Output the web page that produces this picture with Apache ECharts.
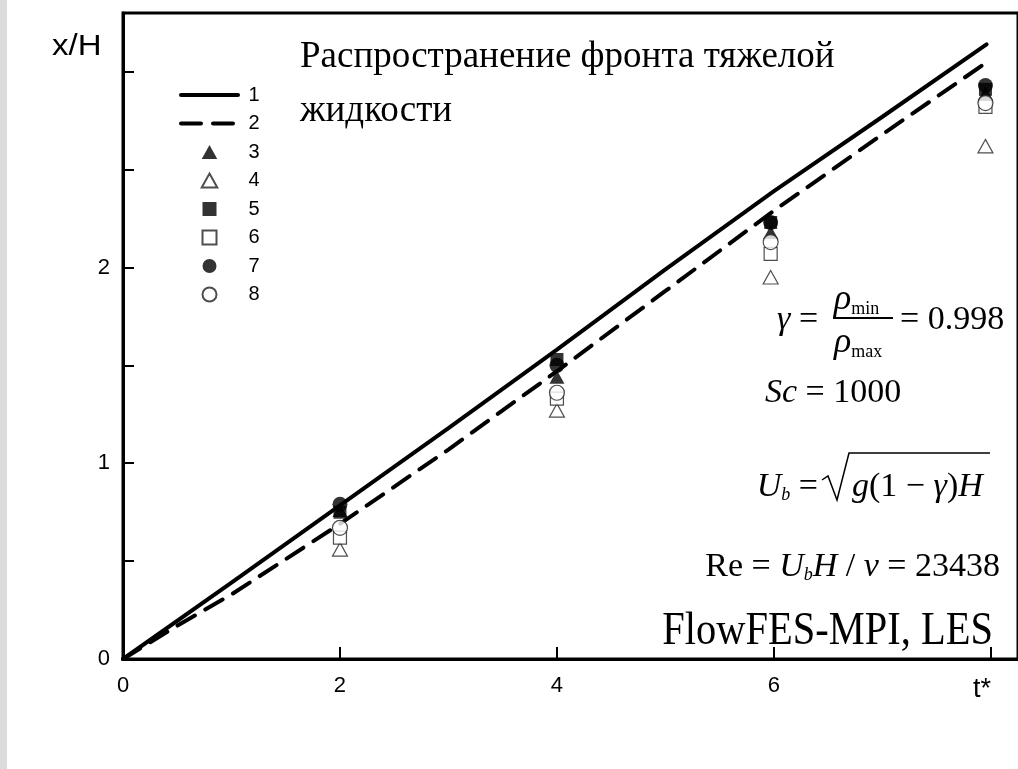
<!DOCTYPE html>
<html>
<head>
<meta charset="utf-8">
<script src="https://cdn.jsdelivr.net/npm/echarts@6.0.0/dist/echarts.min.js"></script>
<style>
html,body{margin:0;padding:0;background:#fff;}
#chart{width:1018px;height:769px;}
</style>
</head>
<body>
<div id="chart"></div>
<script>
// ---- data ----
const seriesNames = ['1', '2', '3', '4', '5', '6', '7', '8'];
const tLine1 = [0, 1, 2, 3, 4, 5, 6, 7, 7.96];
const xLine1 = [0, 0.39, 0.785, 1.18, 1.58, 1.99, 2.39, 2.77, 3.14];
const tLine2 = [0, 0.5, 1, 2, 3, 4, 5, 6, 7, 7.94];
const xLine2 = [0, 0.17, 0.33, 0.69, 1.07, 1.47, 1.88, 2.29, 2.68, 3.04];
const tPts = [2, 4, 5.97, 7.95];
const s3 = [0.76, 1.44, 2.18, 2.89];
const s4 = [0.56, 1.27, 1.95, 2.62];
const s5 = [0.75, 1.53, 2.23, 2.91];
const s6 = [0.62, 1.33, 2.07, 2.82];
const s7 = [0.79, 1.50, 2.23, 2.93];
const s8 = [0.67, 1.36, 2.13, 2.84];
const xTickLabels = ['0', '2', '4', '6'];
const yTickLabels = ['0', '1', '2'];

const zip = (a, b) => a.map((v, i) => [v, b[i]]);
const SANS = 'Liberation Sans';
const SERIF = 'Liberation Serif';
const DASH = [20, 12];
const TRI = 'path://M0,-0.9L1,0.9L-1,0.9Z';
const SQR = 'path://M0,0H1V1H0Z';

const filled = { color: '#000' };
const open = { color: '#fff', borderColor: '#222', borderWidth: 1.2 };

function scatter(name, vals, symbol, size, style) {
  return {
    name, type: 'scatter', data: zip(tPts, vals), symbol, symbolSize: size,
    symbolKeepAspect: true, itemStyle: style, z: 5
  };
}

const chart = echarts.init(document.getElementById('chart'), null, { renderer: 'canvas' });

const legendData = seriesNames.map((n, i) => {
  if (i === 0) return { name: n, lineStyle: { color: '#000', width: 4, type: 'solid' }, itemStyle: { color: 'rgba(0,0,0,0)', borderWidth: 0 } };
  if (i === 1) return { name: n, lineStyle: { color: '#000', width: 4, type: DASH }, itemStyle: { color: 'rgba(0,0,0,0)', borderWidth: 0 } };
  return { name: n };
});

const option = {
  animation: false,
  backgroundColor: '#fff',
  grid: {
    left: 123, top: 13, right: -6, bottom: 110,
    show: true, borderColor: '#000', borderWidth: 3, backgroundColor: 'transparent'
  },
  xAxis: {
    type: 'value', min: 0, max: 8.25, interval: 2,
    splitLine: { show: false },
    axisLine: { onZero: false, lineStyle: { color: '#000', width: 3 } },
    axisTick: { inside: true, length: 12, lineStyle: { color: '#000', width: 2 } },
    axisLabel: {
      margin: 16, color: '#000', fontFamily: SANS, fontSize: 22,
      showMaxLabel: false,
      formatter: v => { const i = xTickLabels.indexOf(String(v)); return i >= 0 ? xTickLabels[i] : ''; }
    }
  },
  yAxis: {
    type: 'value', min: 0, max: 3.3, interval: 0.5,
    splitLine: { show: false },
    axisLine: { onZero: false, lineStyle: { color: '#000', width: 3 } },
    axisTick: { inside: true, length: 11, lineStyle: { color: '#000', width: 2 } },
    axisLabel: {
      margin: 13, color: '#000', fontFamily: SANS, fontSize: 22,
      showMaxLabel: false,
      formatter: v => { const i = yTickLabels.indexOf(String(v)); return i >= 0 ? yTickLabels[i] : ''; }
    }
  },
  legend: {
    orient: 'vertical', left: 179, top: 85, padding: 0,
    itemWidth: 57, itemHeight: 14, itemGap: 8.5,
    symbolKeepAspect: true,
    data: legendData,
    formatter: n => ' ' + n,
    textStyle: { color: '#000', fontFamily: SANS, fontSize: 20 }
  },
  series: [
    {
      name: '1', type: 'line', data: zip(tLine1, xLine1), symbol: 'none', z: 3,
      itemStyle: { color: '#000' },
      lineStyle: { color: '#000', width: 4, cap: 'round' }
    },
    {
      name: '2', type: 'line', data: zip(tLine2, xLine2), symbol: 'none', z: 3,
      itemStyle: { color: '#000' },
      lineStyle: { color: '#000', width: 4, type: DASH, cap: 'round' }
    },
    scatter('3', s3, TRI, 15, filled),
    scatter('4', s4, TRI, 15, open),
    scatter('5', s5, SQR, 13, filled),
    scatter('6', s6, SQR, 13, open),
    scatter('7', s7, 'circle', 15, filled),
    scatter('8', s8, 'circle', 15, open)
  ],
  graphic: [
    { type: 'rect', shape: { x: 0, y: 0, width: 7, height: 769 }, style: { fill: '#dcdcdc' }, z: 0, silent: true },
    { type: 'text', x: 52, y: 47, scaleX: 1.1, style: { text: 'x/H', fontFamily: SANS, fontSize: 30, fill: '#000', align: 'left', verticalAlign: 'middle' } },
    { type: 'text', x: 973, y: 690, style: { text: 't*', fontFamily: SANS, fontSize: 27, fill: '#000', align: 'left', verticalAlign: 'middle' } },
    { type: 'text', x: 300, y: 57, style: { text: 'Распространение фронта тяжелой', fontFamily: SERIF, fontSize: 37, fill: '#000', align: 'left', verticalAlign: 'middle' } },
    { type: 'text', x: 300, y: 111, style: { text: 'жидкости', fontFamily: SERIF, fontSize: 37, fill: '#000', align: 'left', verticalAlign: 'middle' } },
    // gamma
    { type: 'text', x: 777, y: 320, style: { text: '{i|γ} =', fontFamily: SERIF, fontSize: 34, fill: '#000', align: 'left', verticalAlign: 'middle', rich: { i: { fontStyle: 'italic', fontFamily: SERIF, fontSize: 34 } } } },
    { type: 'text', x: 834, y: 300, style: { text: '{i|ρ}{s|min}', fontFamily: SERIF, fontSize: 34, fill: '#000', align: 'left', verticalAlign: 'middle', rich: { i: { fontStyle: 'italic', fontFamily: SERIF, fontSize: 36 }, s: { fontFamily: SERIF, fontSize: 18, verticalAlign: 'bottom' } } } },
    { type: 'line', shape: { x1: 833, y1: 318, x2: 893, y2: 318 }, style: { stroke: '#000', lineWidth: 2 } },
    { type: 'text', x: 834, y: 343, style: { text: '{i|ρ}{s|max}', fontFamily: SERIF, fontSize: 34, fill: '#000', align: 'left', verticalAlign: 'middle', rich: { i: { fontStyle: 'italic', fontFamily: SERIF, fontSize: 36 }, s: { fontFamily: SERIF, fontSize: 18, verticalAlign: 'bottom' } } } },
    { type: 'text', x: 900, y: 320, style: { text: '= 0.998', fontFamily: SERIF, fontSize: 34, fill: '#000', align: 'left', verticalAlign: 'middle' } },
    { type: 'text', x: 765, y: 393, style: { text: '{i|Sc} = 1000', fontFamily: SERIF, fontSize: 34, fill: '#000', align: 'left', verticalAlign: 'middle', rich: { i: { fontStyle: 'italic', fontFamily: SERIF, fontSize: 34 } } } },
    // U_b
    { type: 'text', x: 818, y: 487, style: { text: '{i|U}{s|b} =', fontFamily: SERIF, fontSize: 34, fill: '#000', align: 'right', verticalAlign: 'middle', rich: { i: { fontStyle: 'italic', fontFamily: SERIF, fontSize: 34 }, s: { fontStyle: 'italic', fontFamily: SERIF, fontSize: 18, verticalAlign: 'bottom' } } } },
    { type: 'polyline', shape: { points: [[822, 480], [828, 476], [837, 500], [849, 453], [990, 453]] }, style: { stroke: '#000', lineWidth: 1.5, fill: null } },
    { type: 'text', x: 852, y: 487, style: { text: '{i|g}(1 − {i|γ}){i|H}', fontFamily: SERIF, fontSize: 34, fill: '#000', align: 'left', verticalAlign: 'middle', rich: { i: { fontStyle: 'italic', fontFamily: SERIF, fontSize: 34 } } } },
    // Re
    { type: 'text', x: 1000, y: 567, style: { text: 'Re = {i|U}{s|b}{i|H} / {i|ν} = 23438', fontFamily: SERIF, fontSize: 34, fill: '#000', align: 'right', verticalAlign: 'middle', rich: { i: { fontStyle: 'italic', fontFamily: SERIF, fontSize: 34 }, s: { fontStyle: 'italic', fontFamily: SERIF, fontSize: 18, verticalAlign: 'bottom' } } } },
    { type: 'text', x: 993, y: 632, scaleX: 0.88, style: { text: 'FlowFES-MPI, LES', fontFamily: SERIF, fontSize: 46, fill: '#000', align: 'right', verticalAlign: 'middle' } }
  ]
};
chart.setOption(option);
</script>
</body>
</html>
